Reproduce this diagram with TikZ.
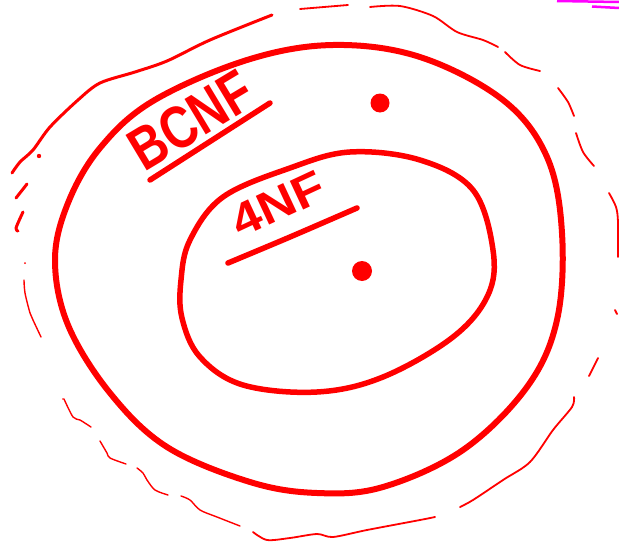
\documentclass[tikz,border=0pt]{standalone}
\usepackage{fontspec}
\setsansfont{Liberation Sans}
\definecolor{pen}{HTML}{FF0000}
\definecolor{hl}{HTML}{FF00FF}
\begin{document}
\begin{tikzpicture}[x=1pt,y=-1pt,
  ring/.style={draw=pen, line width=6pt, line cap=round, line join=round},
  scrib/.style={draw=pen, line width=1.8pt, line cap=round, line join=round},
  scribb/.style={draw=pen, line width=3pt, line cap=round, line join=round},
  ul/.style={draw=pen, line width=5.5pt, line cap=round},
  lbl/.style={text=pen, font=\sffamily\bfseries, inner sep=0pt},
  penDot/.style={circle, fill=pen, inner sep=0pt, minimum size=#1},
  hlstroke/.style={draw=hl, line width=2.5pt}]
\useasboundingbox (0,0) rectangle (619,546);

% middle ring (BCNF)
\draw[ring] plot[smooth cycle, tension=0.6] coordinates {
 (333,45) (420,57) (503,100) (547,157) (562,233) (557,320) (527,387) (463,450)
 (383,487) (317,493) (250,482) (167,447) (110,393) (68,325) (55,260) (68,203)
 (100,148) (153,101) (247,60)};

% inner ring (4NF)
\draw[ring, line width=5.5pt] plot[smooth cycle, tension=0.6] coordinates {
 (350,152) (420,160) (473,190) (493,250) (488,295) (453,337) (383,377) (317,392)
 (243,385) (200,357) (182,318) (181,280) (190,240) (223,197) (290,168)};

% labels
\node[lbl, rotate=31] (bcnf) at (191,120) {\fontsize{60}{60}\selectfont\scalebox{0.8}[1]{BCNF}};
\draw[ul] (150,180) -- (270,103);
\node[lbl, rotate=25] (fnf) at (278,204) {\fontsize{46}{46}\selectfont\scalebox{1.12}[1]{4NF}};
\draw[ul] plot[smooth, tension=0.5] coordinates {(228,263) (290,237) (357,208)};

% dots
\node[penDot=19pt] (d1) at (380,103) {};
\node[penDot=20pt] (d2) at (362,271) {};

% outer broken scribble
\draw[scribb] plot[smooth, tension=0.5] coordinates {(12,173) (20,162) (33,150) (50,127) (78,100) (100,83) (135,72) (167,61) (210,40) (272,15)};
\fill[pen] (39,156) circle (2.2pt);
\draw[scribb] (27,184) -- (16,198);
\draw[scribb] plot[smooth] coordinates {(23,212) (16,228) (18,231)};
\fill[pen] (25,263) circle (1pt);
\draw[scrib, line width=1.4pt] plot[smooth] coordinates {(24,280) (25,293) (30,313) (33,320) (41,337)};
\fill[pen] (63,399) circle (0.8pt);
\draw[scrib, line width=1.4pt] plot[smooth] coordinates {(64,399) (73,417) (80,420) (91,427)};
\draw[scrib, line width=1.4pt] plot[smooth] coordinates {(100,441) (107,453) (110,458) (126,464)};
\draw[scrib, line width=1.4pt] plot[smooth] coordinates {(137,468) (143,473) (147,480) (155,490) (168,495)};
\draw[scrib, line width=1.4pt] plot[smooth] coordinates {(181,496) (190,500) (200,510) (217,517) (240,526)};
\draw[scrib] plot[smooth] coordinates {(253,532) (267,540) (290,538) (317,534) (333,537) (367,530) (420,520) (435,517)};
\draw[scrib] plot[smooth] coordinates {(460,507) (473,500) (503,480) (530,462) (553,430) (572,407) (574,397)};
\draw[scrib] (589,376) -- (598,358);
\draw[scrib] (615,310) -- (617,314);
\draw[scrib] plot[smooth] coordinates {(609,193) (616,207) (618,222) (618,257)};
\draw[scrib] plot[smooth] coordinates {(576,133) (583,152) (594,166)};
\draw[scrib] plot[smooth] coordinates {(558,88) (568,102) (574,116)};
\draw[scrib] plot[smooth] coordinates {(505,52) (520,65) (540,71)};
\draw[scrib] plot[smooth] coordinates {(370,7) (400,6) (433,16) (457,32) (483,40) (498,47)};
\draw[scrib] (300,9) -- (348,5);

% magenta marks
\draw[hlstroke] (557,1) -- (619,2);
\draw[hlstroke] (592,6.5) -- (619,8);
\end{tikzpicture}
\end{document}
